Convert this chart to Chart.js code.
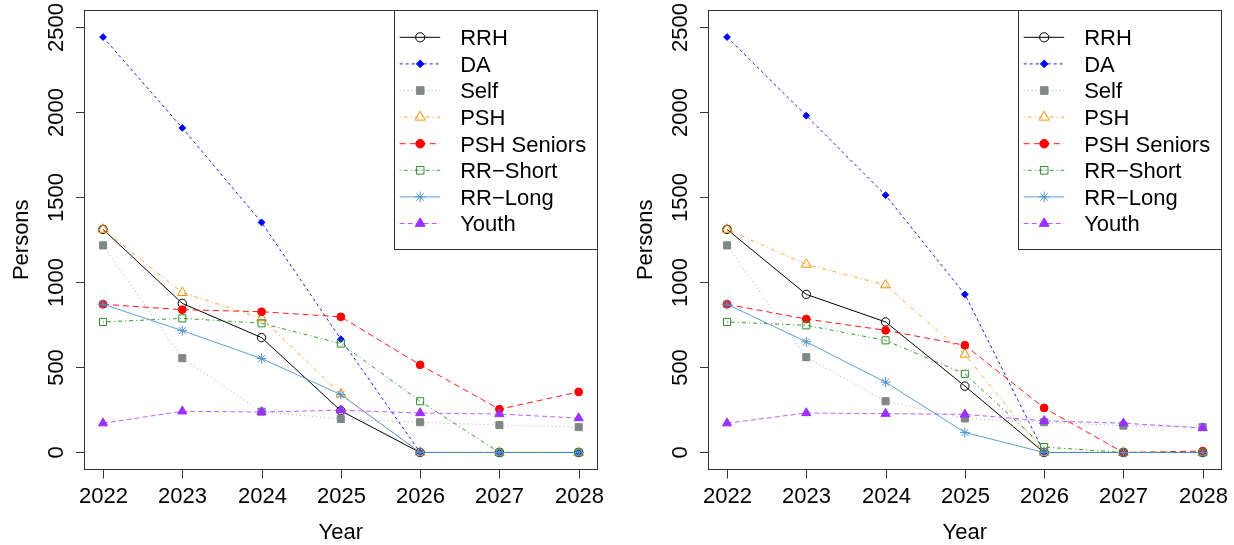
<!DOCTYPE html>
<html>
<head>
<meta charset="utf-8">
<script src="https://cdn.jsdelivr.net/npm/chart.js@4.4.1/dist/chart.umd.min.js"></script>
<style>
  html, body { margin: 0; padding: 0; background: #ffffff; }
  #wrap { position: relative; width: 1234px; height: 545px; overflow: hidden; }
  .panel { position: absolute; top: 0; width: 617px; height: 545px; }
</style>
</head>
<body>
<div id="wrap">
  <div class="panel" style="left:0"><canvas id="left" width="617" height="545"></canvas></div>
  <div class="panel" style="left:617px"><canvas id="right" width="617" height="545"></canvas></div>
</div>
<script>
// ---- data ----
const years = [2022, 2023, 2024, 2025, 2026, 2027, 2028];
const yTicks = [0, 500, 1000, 1500, 2000, 2500];
const seriesNames = ['RRH', 'DA', 'Self', 'PSH', 'PSH Seniors', 'RR\u2212Short', 'RR\u2212Long', 'Youth'];

// left panel
const rrhA      = [1311, 876, 675, 245, 0, 0, 0];
const daA       = [2441, 1907, 1352, 666, 0, 0, 0];
const selfA     = [1217, 554, 240, 197, 178, 161, 149];
const pshA      = [1311, 939, 790, 343, 0, 0, 0];
const pshSenA   = [871, 839, 827, 797, 515, 254, 356];
const rrShortA  = [767, 788, 759, 640, 301, 0, 0];
const rrLongA   = [871, 716, 552, 340, 0, 0, 0];
const youthA    = [172, 242, 238, 248, 232, 226, 202];

// right panel
const rrhB      = [1311, 929, 767, 390, 0, 0, 0];
const daB       = [2441, 1979, 1512, 929, 0, 0, 0];
const selfB     = [1217, 560, 301, 200, 178, 158, 149];
const pshB      = [1311, 1105, 984, 577, 0, 0, 0];
const pshSenB   = [871, 784, 718, 630, 262, 0, 8];
const rrShortB  = [767, 747, 659, 462, 32, 0, 0];
const rrLongB   = [871, 650, 413, 118, 0, 0, 0];
const youthB    = [172, 232, 228, 224, 186, 172, 144];

// ---- styles ----
const pointColors = ['#000000', '#0000ff', '#7f8787', '#ff8c00', '#ff0000', '#2e8b2e', '#4f94cd', '#9b30ff'];
const lineColors  = ['#000000', 'rgba(0,0,255,0.9)', 'rgba(150,150,150,0.8)', 'rgba(255,140,0,0.8)',
                     'rgba(255,0,0,0.9)', 'rgba(34,139,34,0.9)', 'rgba(79,148,205,0.9)', 'rgba(155,48,255,0.75)'];
const dashes      = [[], [3, 3], [1, 3], [1, 3, 4, 3], [6, 4], [1, 3, 4, 3], [], [5, 3]];
const shapes      = ['circle', 'rectRot', 'rect', 'triangle', 'circle', 'rect', 'star', 'triangle'];
const radii       = [4.2, 3.4, 5.0, 5.6, 3.9, 5.0, 5.0, 5.3];
const filled      = [false, true, true, false, true, false, false, true];

const FONT = '"Liberation Sans", Arial, Helvetica, sans-serif';

function makeDatasets(values) {
  return seriesNames.map((name, i) => ({
    label: name,
    data: years.map((yr, j) => ({ x: yr, y: values[i][j] })),
    borderColor: lineColors[i],
    borderWidth: 1,
    borderDash: dashes[i],
    pointStyle: shapes[i],
    pointRadius: radii[i],
    pointHoverRadius: radii[i],
    pointBorderWidth: 1,
    pointBorderColor: pointColors[i],
    pointBackgroundColor: filled[i] ? pointColors[i] : 'rgba(0,0,0,0)',
    tension: 0,
    fill: false,
    order: seriesNames.length - i
  }));
}

// Axes, box, titles and the boxed legend, drawn R-style around the chart area
const rAxes = {
  id: 'rAxes',
  afterDatasetsDraw(chart) {
    const ctx = chart.ctx;
    const a = chart.chartArea;
    const xs = chart.scales.x, ys = chart.scales.y;
    ctx.save();
    ctx.strokeStyle = '#333333';
    ctx.lineWidth = 1;
    ctx.setLineDash([]);
    // plot box
    ctx.strokeRect(Math.round(a.left) + 0.5, Math.round(a.top) + 0.5,
                   Math.round(a.right - a.left) - 1, Math.round(a.bottom - a.top) - 1);
    // x ticks
    ctx.fillStyle = '#000000';
    ctx.font = '22px ' + FONT;
    ctx.textAlign = 'center';
    ctx.textBaseline = 'alphabetic';
    const yb = Math.round(a.bottom) - 0.5;
    years.forEach(yr => {
      const px = Math.round(xs.getPixelForValue(yr)) + 0.5;
      ctx.beginPath(); ctx.moveTo(px, yb); ctx.lineTo(px, yb + 9); ctx.stroke();
      ctx.fillText(String(yr), px, a.bottom + 33);
    });
    // y ticks (labels parallel to the axis)
    const xl = Math.round(a.left) + 0.5;
    yTicks.forEach(v => {
      const py = Math.round(ys.getPixelForValue(v)) + 0.5;
      ctx.beginPath(); ctx.moveTo(xl, py); ctx.lineTo(xl - 8.5, py); ctx.stroke();
      ctx.save();
      ctx.translate(a.left - 29, py);
      ctx.rotate(-Math.PI / 2);
      ctx.fillText(String(v), 0, 7.9);
      ctx.restore();
    });
    // axis titles
    ctx.fillText('Year', (a.left + a.right) / 2, a.bottom + 69);
    ctx.save();
    ctx.translate(a.left - 56, (a.top + a.bottom) / 2);
    ctx.rotate(-Math.PI / 2);
    ctx.fillText('Persons', 0, 0);
    ctx.restore();

    // legend
    const lw = 203.5, lh = 239.5;
    const lx = a.right - lw, ly = a.top;
    ctx.fillStyle = '#ffffff';
    ctx.fillRect(lx, ly, lw, lh);
    ctx.strokeStyle = '#333333';
    ctx.strokeRect(Math.round(lx) + 0.5, Math.round(ly) + 0.5, Math.round(lw) - 1, Math.round(lh) - 1);
    chart.data.datasets.forEach((ds, i) => {
      const ry = ly + 27.3 + i * 26.6;
      ctx.save();
      ctx.strokeStyle = ds.borderColor;
      ctx.lineWidth = 1;
      ctx.setLineDash(ds.borderDash);
      ctx.beginPath(); ctx.moveTo(lx + 5.5, ry); ctx.lineTo(lx + 46, ry); ctx.stroke();
      ctx.setLineDash([]);
      ctx.strokeStyle = ds.pointBorderColor;
      ctx.fillStyle = ds.pointBackgroundColor;
      Chart.helpers.drawPoint(ctx, {
        pointStyle: ds.pointStyle, radius: ds.pointRadius + 0.4,
        borderWidth: ds.pointBorderWidth, rotation: 0
      }, lx + 26, ry);
      ctx.restore();
      ctx.fillStyle = '#000000';
      ctx.textAlign = 'left';
      ctx.fillText(ds.label, lx + 66, ry + 7.9);
    });
    ctx.restore();
  }
};

function makeChart(id, values, pad) {
  return new Chart(document.getElementById(id), {
    type: 'line',
    data: { datasets: makeDatasets(values) },
    options: {
      responsive: false,
      animation: false,
      devicePixelRatio: 1,
      layout: { padding: pad },
      plugins: { legend: { display: false }, tooltip: { enabled: false } },
      scales: {
        x: { type: 'linear', min: 2021.76, max: 2028.24, display: false },
        y: { type: 'linear', min: -100, max: 2600, display: false }
      }
    },
    plugins: [rAxes]
  });
}

makeChart('left',
  [rrhA, daA, selfA, pshA, pshSenA, rrShortA, rrLongA, youthA],
  { left: 84, right: 19.3, top: 10, bottom: 75.5 });
makeChart('right',
  [rrhB, daB, selfB, pshB, pshSenB, rrShortB, rrLongB, youthB],
  { left: 91, right: 12.3, top: 10, bottom: 75.5 });
</script>
</body>
</html>
